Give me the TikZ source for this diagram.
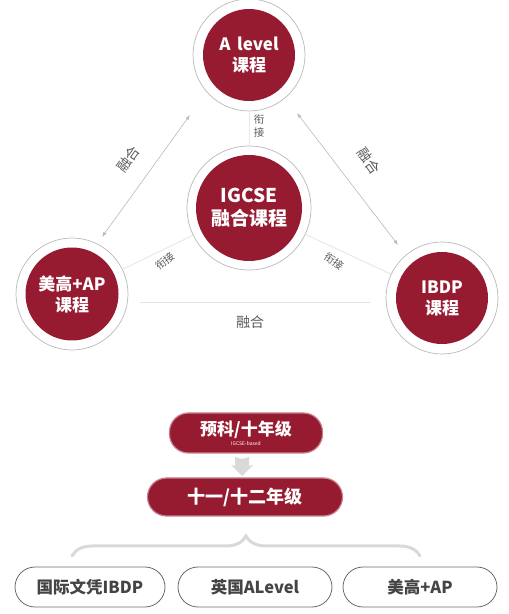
\documentclass[tikz,border=0pt]{standalone}
\usepackage{fontspec}
\setmainfont{Noto Sans CJK SC}
\usetikzlibrary{arrows.meta, decorations.pathreplacing}
\definecolor{kred}{RGB}{150,26,48}
\definecolor{kgray}{RGB}{90,90,90}
\definecolor{kdark}{RGB}{68,68,68}

\begin{document}
\begin{tikzpicture}[x=1pt, y=1pt,
    ring/.style={circle, fill=white, draw=gray!55, line width=0.7pt, inner sep=0pt},
    core/.style={circle, fill=kred, text=white, inner sep=0pt, align=center,
        font=\bfseries\fontsize{17}{21}\selectfont},
    fuselabel/.style={text=kgray, font=\fontsize{14}{14}\selectfont, inner sep=0pt},
    linklabel/.style={text=kgray, font=\fontsize{10.5}{13}\selectfont, inner sep=0pt, align=center},
    fusearrow/.style={draw=gray!55, line width=0.6pt, {Latex[length=5pt,width=3.5pt]}-{Latex[length=5pt,width=3.5pt]}},
    faint/.style={draw=gray!18, line width=1pt},
    redpill/.style={rounded corners=19pt, fill=kred, draw=kred!55!white, line width=1.2pt,
        text=white, align=center, inner sep=0pt},
    trackpill/.style={rounded corners=20pt, fill=white, draw=kdark!80, line width=0.8pt,
        text=kdark, minimum height=40pt, font=\bfseries\fontsize{16.5}{16.5}\selectfont}
]
    \useasboundingbox (0,0) rectangle (509,614);

    % Four courses
    \node[ring, minimum size=112pt] (alevelring) at (249,559) {};
    \node[core, minimum size=92pt] (alevel) at (249,559) {A\, level\\课程};
    \node[ring, minimum size=124pt] (igcsering) at (249,406) {};
    \node[core, minimum size=106pt, font=\bfseries\fontsize{19}{23}\selectfont] (igcse) at (249,406) {IGCSE\\融合课程};
    \node[ring, minimum size=112pt] (meigaoring) at (72,320) {};
    \node[core, minimum size=93pt] (meigao) at (72,320) {美高+AP\\课程};
    \node[ring, minimum size=112pt] (ibdpring) at (442,316) {};
    \node[core, minimum size=92pt] (ibdp) at (442,316) {IBDP\\课程};

    % Links to IGCSE
    \draw[faint] (alevelring) -- (igcsering);
    \draw[faint] (igcsering) -- (meigaoring);
    \draw[faint] (igcsering) -- (ibdpring);
    \node[linklabel] (linktop) at (259,488) {衔\\接};
    \node[linklabel, rotate=38] (linkleft) at (165,353) {衔接};
    \node[linklabel, rotate=-36] (linkright) at (334,353) {衔接};

    % Fusion
    \coordinate (la) at (190,499);
    \coordinate (lb) at (102,377);
    \coordinate (ra) at (297,501);
    \coordinate (rb) at (398,369);
    \coordinate (ba) at (140,311);
    \coordinate (bb) at (370,311);
    \draw[fusearrow] (la) -- (lb);
    \draw[fusearrow] (ra) -- (rb);
    \draw[faint, draw=gray!22] (ba) -- (bb);
    \node[fuselabel, rotate=54] (fuseleft) at (128,455) {融合};
    \node[fuselabel, rotate=-54] (fuseright) at (369,453) {融合};
    \node[fuselabel] (fusebottom) at (250,292) {融合};

    % Grades
    \node[redpill, minimum width=153pt, minimum height=40pt] (prep) at (246,181)
        {{\bfseries\fontsize{17}{17}\selectfont 预科/十年级}\\[-2pt]{\fontsize{5}{5}\selectfont IGCSE-based}};
    \node[redpill, minimum width=195pt, minimum height=38pt,
        font=\bfseries\fontsize{18}{18}\selectfont] (grade) at (245,117) {十一/十二年级};
    \fill[gray!30, shift={(242,147)}] (-7,10) -- (0,8) -- (7,10) -- (7,1) -- (11,2)
        -- (0,-9) -- (-11,2) -- (-7,1) -- cycle;

    % Brace and pathways
    \draw[gray!30, line width=3pt, line cap=round, decorate,
        decoration={brace, amplitude=20pt}] (72,58) -- (420,58);
    \node[trackpill, minimum width=150pt] (trackib) at (90,27) {国际文凭IBDP};
    \node[trackpill, minimum width=154pt] (trackal) at (255,27) {英国ALevel};
    \node[trackpill, minimum width=154pt] (trackap) at (420,27) {美高+AP};
\end{tikzpicture}
\end{document}
